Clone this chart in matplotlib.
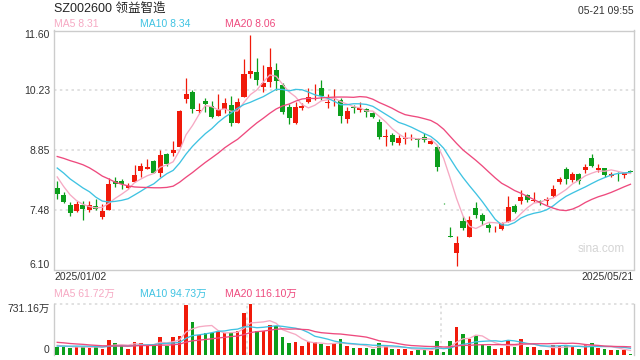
import numpy as np
import pandas as pd
import matplotlib
matplotlib.use('Agg')
import matplotlib.pyplot as plt

plt.rcParams['font.family'] = ['Liberation Sans', 'Noto Sans CJK SC', 'DejaVu Sans']

title = 'SZ002600 领益智造'
stamp = '05-21 09:55'
first_date = '2025/01/02'
last_date = '2025/05/21'

# daily candles 2025/01/02 .. 2025/05/21
opens = [7.98, 7.82, 7.59, 7.44, 7.59, 7.46, 7.555, 7.31, 7.48, 8.13,
         8.14, 7.97, 8.105, 8.36, 8.42, 8.60, 8.32, 8.76, 8.79, 8.93,
         10.03, 10.185, 9.74, 9.98, 9.865, 9.64, 9.80, 9.88, 9.48, 10.08,
         10.605, 10.64, 10.29, 10.42, 10.69, 10.345, 9.83, 9.48, 9.825, 9.955,
         10.02, 10.27, 9.925, 10.06, 10.00, 9.56, 9.84, 9.77, 9.79, 9.71,
         9.505, 9.14, 9.20, 9.02, 9.10, 9.115, 9.10, 9.145, 8.99, 8.93,
         7.61, 6.86, 6.47, 7.205, 6.84, 7.52, 7.365, 7.135, 7.00, 7.035,
         7.19, 7.57, 7.67, 7.81, 7.67, 7.685, 7.67, 7.785, 8.12, 8.42,
         8.15, 8.305, 8.38, 8.665, 8.395, 8.435, 8.26, 8.32, 8.28, 8.365]
highs = [8.14, 7.89, 7.65, 7.685, 7.67, 7.68, 7.73, 7.615, 8.21, 8.24,
         8.19, 8.10, 8.51, 8.56, 8.64, 8.625, 8.855, 8.78, 9.06, 9.77,
         10.50, 10.225, 9.94, 10.04, 9.98, 10.13, 10.04, 10.10, 10.055, 10.935,
         11.49, 10.96, 10.805, 11.20, 10.845, 10.385, 9.91, 9.96, 9.925, 10.28,
         10.37, 10.45, 10.13, 10.25, 10.05, 9.85, 9.89, 9.96, 9.81, 9.735,
         9.565, 9.33, 9.24, 9.20, 9.27, 9.215, 9.12, 9.24, 9.10, 8.97,
         7.63, 7.07, 6.88, 7.34, 7.325, 7.655, 7.40, 7.175, 7.11, 7.19,
         7.80, 7.61, 7.94, 7.84, 7.875, 7.71, 7.77, 8.05, 8.23, 8.46,
         8.345, 8.32, 8.535, 8.765, 8.535, 8.435, 8.335, 8.355, 8.32, 8.38]
lows = [7.73, 7.62, 7.33, 7.415, 7.23, 7.43, 7.48, 7.265, 7.48, 7.99,
        7.95, 7.95, 8.105, 8.24, 8.41, 8.32, 8.22, 8.48, 8.72, 8.93,
        9.93, 9.69, 9.71, 9.73, 9.58, 9.64, 9.71, 9.41, 9.47, 10.08,
        10.50, 10.345, 10.19, 10.31, 10.23, 9.68, 9.45, 9.44, 9.76, 9.925,
        10.00, 10.00, 9.825, 9.865, 9.47, 9.48, 9.695, 9.735, 9.62, 9.595,
        9.10, 8.95, 8.97, 8.97, 8.99, 9.085, 8.915, 9.04, 8.985, 8.36,
        7.60, 6.84, 6.18, 7.02, 6.84, 7.29, 7.135, 6.96, 6.96, 7.02,
        7.19, 7.40, 7.615, 7.655, 7.655, 7.595, 7.595, 7.77, 8.07, 8.07,
        8.115, 8.07, 8.32, 8.46, 8.345, 8.24, 8.23, 8.13, 8.205, 8.33]
closes = [7.84, 7.645, 7.40, 7.61, 7.50, 7.59, 7.495, 7.455, 8.075, 8.07,
          8.07, 8.02, 8.265, 8.49, 8.45, 8.33, 8.74, 8.52, 8.855, 9.75,
          10.14, 9.80, 9.77, 9.91, 9.61, 9.77, 9.93, 9.48, 9.955, 10.60,
          10.665, 10.46, 10.40, 10.76, 10.445, 9.735, 9.595, 9.835, 9.87, 10.06,
          10.04, 10.10, 9.96, 10.08, 9.64, 9.75, 9.81, 9.82, 9.73, 9.62,
          9.14, 9.175, 9.045, 9.135, 9.135, 9.135, 9.08, 9.085, 9.06, 8.45,
          7.60, 6.84, 6.715, 7.065, 7.25, 7.35, 7.21, 7.05, 7.02, 7.16,
          7.54, 7.43, 7.775, 7.71, 7.69, 7.645, 7.725, 7.955, 8.19, 8.18,
          8.30, 8.145, 8.47, 8.49, 8.435, 8.265, 8.30, 8.31, 8.32, 8.355]
# volume, 万股
volumes = [115, 115, 105, 115, 115, 105, 125, 86, 218, 174,
           134, 86, 188, 174, 144, 144, 262, 134, 262, 276,
           722, 482, 286, 320, 311, 350, 311, 311, 350, 599,
           731.16, 350, 350, 438, 413, 262, 174, 188, 130, 188,
           188, 154, 130, 164, 232, 130, 100, 100, 100, 86,
           174, 125, 86, 86, 86, 56, 76, 76, 56, 203,
           42, 203, 408, 306, 232, 276, 144, 130, 86, 100,
           218, 115, 232, 115, 115, 71, 71, 144, 130, 144,
           115, 86, 154, 174, 100, 86, 71, 71, 71, 17]

# sessions before the window, only needed to seed the moving averages
hist_close = [8.50, 8.45, 8.50, 8.51, 9.00, 9.30, 9.45, 9.40, 9.55, 9.00,
              8.80, 8.75, 8.65, 8.545, 8.455, 8.745, 8.35, 8.285, 7.93]
hist_vol = [260, 300, 250, 220, 280, 240, 210, 230, 200, 160,
            120, 110, 100, 130, 115, 160, 150, 140, 120]

price_ticks = [6.10, 7.48, 8.85, 10.23, 11.60]
vol_max = 731.16
ma_text = ['MA5 8.31', 'MA10 8.34', 'MA20 8.06']
vol_ma_text = ['MA5 61.72万', 'MA10 94.73万', 'MA20 116.10万']

RED = '#f01a0a'
GREEN = '#0c9e1c'
MA_COLORS = ['#f6a9c3', '#3fc3e2', '#ee4a7e']
GRID = '#dcdcdc'
FRAME = '#cccccc'
TXT = '#333333'


def mas(hist, vals, n):
    s = pd.Series(list(hist) + list(vals), dtype=float)
    return s.rolling(n).mean().to_numpy()[len(hist):]


n = len(closes)
x = np.arange(n)
o = np.array(opens); c = np.array(closes)
h = np.array(highs); l = np.array(lows)
up = c >= o
colors = np.where(up, RED, GREEN)

W, H = 640, 360
fig = plt.figure(figsize=(W / 100, H / 100), dpi=100)


def box(left, top, right, bottom):
    return [left / W, 1 - bottom / H, (right - left) / W, (bottom - top) / H]


ax = fig.add_axes(box(54, 30.5, 634, 269.5))
axv = fig.add_axes(box(54, 304.3, 634, 354.8))
xlim = (-0.5, n - 0.45)

# price panel
for yv in price_ticks[1:-1]:
    ax.axhline(yv, color=GRID, lw=1.2, ls=(0, (1.5, 2)), zorder=0)
ax.vlines(x, l, h, colors=colors, lw=0.9, zorder=2)
body = np.maximum(np.abs(c - o), 0.012)
ax.bar(x, body, bottom=np.minimum(o, c), width=0.78, color=colors, lw=0, zorder=3)
for k, nn in enumerate([5, 10, 20]):
    ax.plot(x, mas(hist_close, closes, nn), color=MA_COLORS[k], lw=0.95, zorder=4)

ax.set_xlim(*xlim)
ax.set_ylim(price_ticks[0], price_ticks[-1])
ax.set_xticks([])
ax.set_yticks(price_ticks)
ax.set_yticklabels(['%.2f' % v for v in price_ticks])
ax.tick_params(axis='y', length=0, pad=3, labelsize=7.5, labelcolor=TXT)
lbls = ax.get_yticklabels()
lbls[0].set_va('bottom')
lbls[-1].set_va('top')
for sp in ax.spines.values():
    sp.set_color(FRAME)
    sp.set_linewidth(1)
ax.text(0.985, 0.085, 'sina.com', transform=ax.transAxes, ha='right', va='center',
        fontsize=8.5, color='#d4d4d4')

# volume panel
axv.bar(x, volumes, width=0.56, color=colors, lw=0, zorder=3)
for k, nn in enumerate([5, 10, 20]):
    axv.plot(x, mas(hist_vol, volumes, nn), color=MA_COLORS[k], lw=0.95, zorder=4)
axv.set_xlim(*xlim)
axv.set_ylim(0, vol_max)
axv.axhline(vol_max, color=GRID, lw=1.2, ls=(0, (1.5, 2)), zorder=0, clip_on=False)
for k in (1, 2):
    axv.axvline(xlim[0] + (xlim[1] - xlim[0]) * k / 3, color=GRID, lw=1.2,
                ls=(0, (1.5, 2)), zorder=0)
axv.set_xticks([])
axv.set_yticks([0, vol_max])
axv.set_yticklabels(['0', '731.16万'])
axv.tick_params(axis='y', length=0, pad=3, labelsize=7.5, labelcolor=TXT)
vl = axv.get_yticklabels()
vl[0].set_va('bottom')
vl[1].set_va('top')
axv.spines['top'].set_visible(False)
axv.spines['bottom'].set_visible(False)
for side in ('left', 'right'):
    axv.spines[side].set_color(FRAME)
    axv.spines[side].set_linewidth(1)

# header and labels
fig.text(54 / W, 1 - 9 / H, title, va='center', ha='left', fontsize=9, color='#222222')
fig.text(634 / W, 1 - 11 / H, stamp, va='center', ha='right', fontsize=7.5, color=TXT)
for k, xp in enumerate([54, 140, 225]):
    fig.text(xp / W, 1 - 24 / H, ma_text[k], va='center', ha='left', fontsize=7.5,
             color=MA_COLORS[k])
    fig.text(xp / W, 1 - 294 / H, vol_ma_text[k], va='center', ha='left', fontsize=7.5,
             color=MA_COLORS[k])
fig.text(54 / W, 1 - 277.5 / H, first_date, va='center', ha='left', fontsize=7.5, color=TXT)
fig.text(634 / W, 1 - 277.5 / H, last_date, va='center', ha='right', fontsize=7.5, color=TXT)

fig.savefig('out.png', dpi=100)
